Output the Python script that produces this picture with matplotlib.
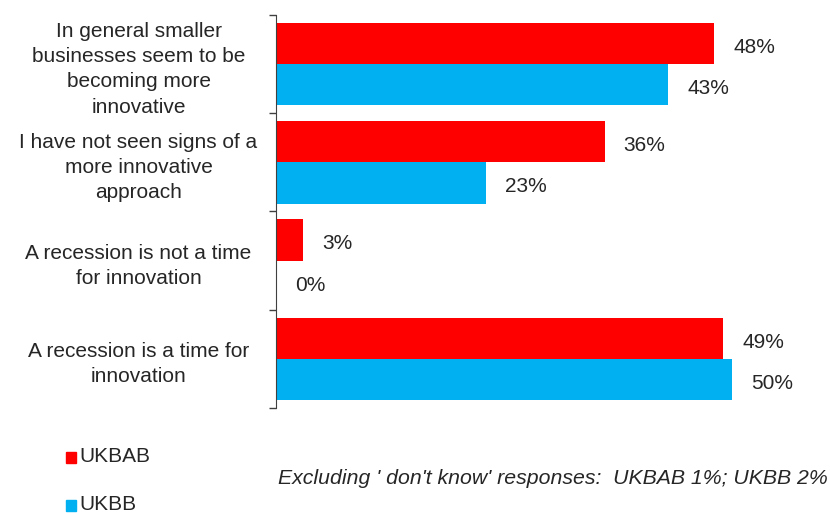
import matplotlib.pyplot as plt
from matplotlib.patches import Rectangle
import numpy as np

plt.rcParams['font.family'] = ['Liberation Sans', 'DejaVu Sans']

categories = ['In general smaller\nbusinesses seem to be\nbecoming more\ninnovative',
              'I have not seen signs of a\nmore innovative\napproach',
              'A recession is not a time\nfor innovation',
              'A recession is a time for\ninnovation']
ukbab = [48, 36, 3, 49]
ukbb = [43, 23, 0, 50]

red = '#FF0000'
blue = '#00B0F0'
text_col = '#262626'
fs = 15

fig = plt.figure(figsize=(8.3, 5.13), dpi=100)
ax = fig.add_axes([276 / 830, 105 / 513, 554 / 830, 393 / 513])

y = np.arange(len(categories))
h = 0.42
ax.barh(y - h / 2, ukbab, height=h, color=red, label='UKBAB')
ax.barh(y + h / 2, ukbb, height=h, color=blue, label='UKBB')

for yi, v in zip(y - h / 2, ukbab):
    ax.text(v + 2.1, yi + 0.04, f'{v}%', va='center', ha='left', fontsize=fs, color=text_col)
for yi, v in zip(y + h / 2, ukbb):
    ax.text(v + 2.1, yi + 0.04, f'{v}%', va='center', ha='left', fontsize=fs, color=text_col)

ax.set_xlim(0, 60.7)
ax.set_ylim(3.5, -0.5)
ax.set_yticks(y)
ax.set_yticklabels(categories, fontsize=fs, color=text_col, ha='center',
                   multialignment='center', linespacing=1.42)
ax.tick_params(axis='y', which='major', length=0, pad=99)
ax.set_yticks(np.arange(-0.5, 4, 1), minor=True)
ax.tick_params(axis='y', which='minor', length=5, width=1, color='#404040', direction='out')
ax.set_xticks([])
for s in ['top', 'right', 'bottom']:
    ax.spines[s].set_visible(False)
ax.spines['left'].set_color('#404040')

# legend keys and footnote
for col, name, yc in [(red, 'UKBAB', 457), (blue, 'UKBB', 505)]:
    fig.patches.append(Rectangle((66 / 830, 1 - (yc + 5.5) / 513), 10 / 830, 11 / 513,
                                 transform=fig.transFigure, color=col))
    fig.text(79 / 830, 1 - yc / 513, name, color=text_col, fontsize=fs, va='center', ha='left')
fig.text(828 / 830, 1 - 478 / 513, "Excluding ' don't know' responses:  UKBAB 1%; UKBB 2%",
         fontsize=15.3, style='italic', color=text_col, va='center', ha='right')

fig.savefig('out.png', dpi=100)
